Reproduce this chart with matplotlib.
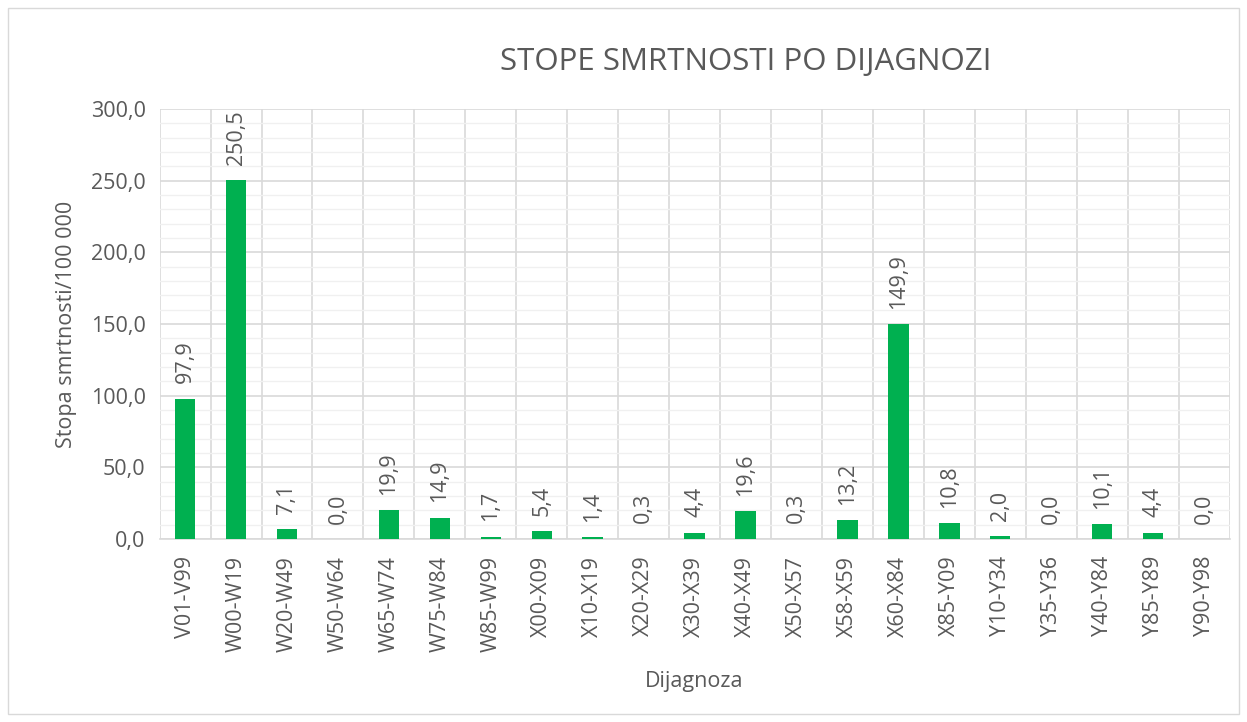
import matplotlib
matplotlib.use("Agg")
import matplotlib.pyplot as plt
from matplotlib.patches import Rectangle
import numpy as np

categories = ["V01-V99", "W00-W19", "W20-W49", "W50-W64", "W65-W74", "W75-W84",
              "W85-W99", "X00-X09", "X10-X19", "X20-X29", "X30-X39", "X40-X49",
              "X50-X57", "X58-X59", "X60-X84", "X85-Y09", "Y10-Y34", "Y35-Y36",
              "Y40-Y84", "Y85-Y89", "Y90-Y98"]
values = [97.9, 250.5, 7.1, 0.0, 19.9, 14.9, 1.7, 5.4, 1.4, 0.3, 4.4, 19.6,
          0.3, 13.2, 149.9, 10.8, 2.0, 0.0, 10.1, 4.4, 0.0]
yticks = [0, 50, 100, 150, 200, 250, 300]

plt.rcParams['font.family'] = ['Open Sans', 'DejaVu Sans']
text_color = '#595959'
fs = 15.5

fig = plt.figure(figsize=(12.47, 7.22), dpi=100)
fig.patches.append(Rectangle((8/1247, 8/722), 1 - 16/1247, 1 - 16/722,
                             transform=fig.transFigure, fill=False,
                             edgecolor='#D9D9D9', linewidth=1))
ax = fig.add_axes([0.128, 0.2535, 0.858, 0.5955])

x = np.arange(len(categories))
ax.bar(x, values, width=0.4, color='#00B050', zorder=3)

ax.set_xlim(-0.5, len(categories) - 0.5)
ax.set_ylim(0, 300)
ax.set_yticks(yticks)
ax.set_yticklabels([f"{v:.1f}".replace('.', ',') for v in yticks])
ax.set_yticks(np.arange(0, 301, 10), minor=True)
ax.set_xticks(x)
ax.set_xticklabels(categories, rotation=90)
ax.set_xticks(np.arange(-0.5, len(categories), 1), minor=True)

ax.tick_params(axis='both', which='both', length=0, colors=text_color, labelsize=fs)
ax.tick_params(axis='y', pad=10)
ax.tick_params(axis='x', pad=12)

ax.grid(True, which='major', axis='y', color='#D9D9D9', linewidth=1.2, zorder=0)
ax.grid(True, which='minor', axis='y', color='#F0F0F0', linewidth=1.0, zorder=0)
ax.grid(True, which='minor', axis='x', color='#D9D9D9', linewidth=1.2, zorder=0)
ax.grid(False, which='major', axis='x')

for s in ['top', 'right', 'left']:
    ax.spines[s].set_visible(False)
ax.spines['bottom'].set_color('#D9D9D9')
ax.spines['bottom'].set_linewidth(1.2)

for xi, v in zip(x, values):
    ax.annotate(f"{v:.1f}".replace('.', ','), (xi, v), xytext=(0, 11),
                textcoords='offset points', rotation=90, ha='center', va='bottom',
                fontsize=fs, color=text_color)

ax.set_ylabel("Stopa smrtnosti/100 000", fontsize=fs, color=text_color, labelpad=10)
ax.set_xlabel("Dijagnoza", fontsize=fs, color=text_color, labelpad=14)
fig.text(0.598, 0.914, "STOPE SMRTNOSTI PO DIJAGNOZI", ha='center', va='center',
         fontsize=22.5, color=text_color)

fig.savefig("out.png", dpi=100, facecolor='white')
